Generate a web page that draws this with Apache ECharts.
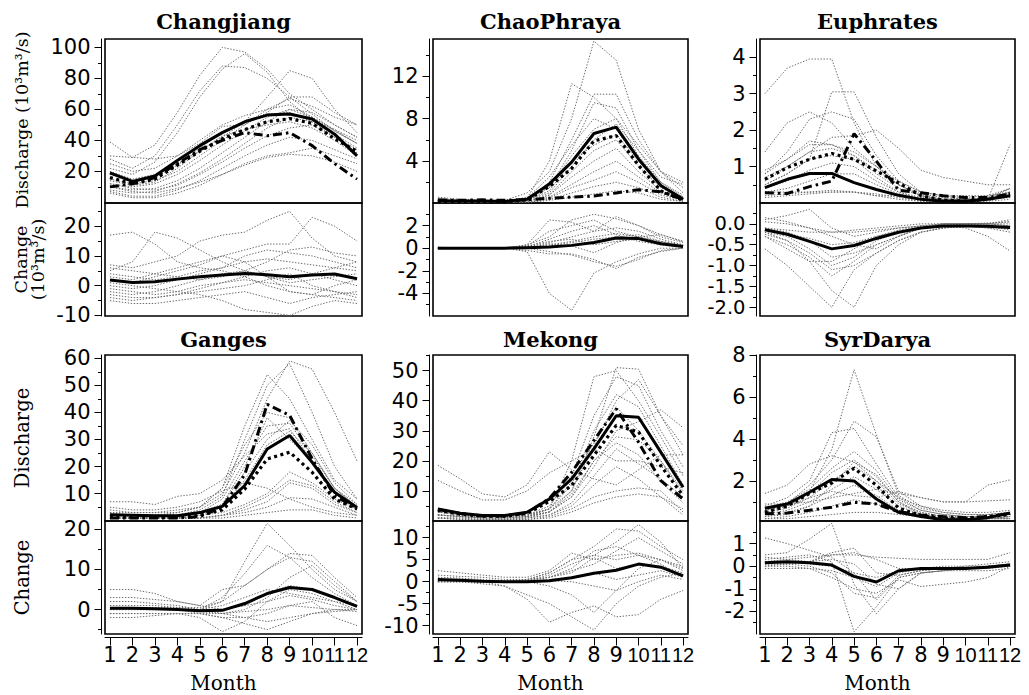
<!DOCTYPE html>
<html>
<head>
<meta charset="UTF-8">
<title>Monthly discharge and change, six basins</title>
<script src="https://cdn.jsdelivr.net/npm/echarts@6/dist/echarts.min.js"></script>
<style>
  html, body { margin: 0; padding: 0; background: #fff; }
  #chart { width: 1029px; height: 695px; }
</style>
</head>
<body>
<div id="chart"></div>
<script>
// months on the x axis
var months = [1, 2, 3, 4, 5, 6, 7, 8, 9, 10, 11, 12];

// ---- Changjiang ----
var cjQModels = [
  [39, 29, 37, 58, 82, 100, 97, 86, 70, 60, 50, 42],
  [28, 22, 30, 50, 72, 88, 87, 80, 68, 57, 46, 38],
  [22, 18, 26, 45, 68, 86, 96, 84, 65, 53, 47, 40],
  [20, 15, 18, 25, 33, 42, 52, 68, 85, 80, 60, 45],
  [30, 29, 28, 30, 38, 49, 50, 58, 68, 68, 58, 50],
  [15, 12, 14, 20, 30, 40, 50, 60, 67, 62, 55, 50],
  [12, 10, 12, 18, 27, 37, 46, 55, 60, 58, 50, 42],
  [10, 8, 9, 14, 22, 32, 42, 52, 60, 55, 47, 38],
  [8, 6, 7, 12, 19, 28, 38, 48, 55, 52, 44, 35],
  [12, 9, 8, 11, 18, 26, 35, 43, 48, 50, 42, 34],
  [7, 4, 4, 8, 14, 22, 30, 37, 42, 40, 34, 28],
  [6, 3, 3, 6, 11, 18, 25, 30, 32, 35, 30, 25],
  [10, 7, 6, 9, 13, 18, 24, 29, 31, 30, 26, 20],
  [18, 14, 16, 24, 35, 45, 52, 57, 58, 52, 42, 32],
  [25, 20, 22, 30, 40, 50, 56, 60, 63, 55, 46, 38],
  [14, 11, 13, 22, 33, 43, 47, 50, 52, 48, 40, 30]
];
var cjQSolid = [19, 13.5, 17, 27, 36.6, 45, 52, 56.3, 57, 53.8, 44, 30];
var cjQDot = [16, 12, 15, 24, 33, 41, 47, 52, 54, 51, 41, 33];
var cjQDashDot = [10, 12, 16, 25, 34, 40, 45, 43, 45, 36.6, 25, 15];
var cjCModels = [
  [17, 18, 14, 8, 6, 5, 3, 0, -2, -3, -4, -5],
  [5, 8, 18, 16, 12, 8, 5, 3, 2, 4, 6, 8],
  [7, 6, 8, 10, 15, 17, 18, 22, 25, 16, 10, 8],
  [3, 2, 4, 6, 8, 10, 12, 14, 14, 23, 20, 15],
  [2, 1, 3, 5, 7, 10, 8, 3, -2, -3, 0, 2],
  [4, 3, 2, 3, 5, 6, 10, 12, 11, 10, 8, 6],
  [0, -1, 0, 2, 4, 6, 8, 9, 8, 7, 6, 5],
  [-2, -3, -2, 0, 2, 4, 5, 3, 1, 2, 3, 4],
  [-4, -5, -4, -3, -1, 1, 3, 5, 6, 4, 2, 0],
  [-5, -6, -6, -5, -4, -3, -2, -4, -6, -4, -3, -2],
  [-3, -4, -4, -3, -2, -1, 0, 2, 4, 0, -2, -4],
  [1, 0, -1, -2, -3, -5, -8, -9, -10, -7, -5, -6],
  [6, 5, 4, 3, 2, 3, 5, 8, 12, 13, 11, 10],
  [-1, -2, -3, -2, 0, 1, 2, 1, 0, -1, -2, -3]
];
var cjCMean = [1.9, 1.1, 1.3, 2.2, 3.0, 3.6, 4.1, 3.7, 3.0, 3.6, 3.9, 2.3];

// ---- ChaoPhraya ----
var cpQModels = [
  [0.6, 0.4, 0.3, 0.3, 1.0, 3.0, 8.0, 15.3, 13.5, 7.0, 3.0, 1.5],
  [0.4, 0.3, 0.3, 0.3, 0.5, 4.0, 11.3, 10.0, 8.0, 5.5, 3.0, 2.0],
  [0.3, 0.2, 0.2, 0.2, 0.4, 2.0, 6.0, 10.3, 10.3, 6.0, 3.0, 1.0],
  [0.3, 0.2, 0.2, 0.2, 0.6, 1.5, 5.0, 9.5, 9.0, 5.0, 2.0, 0.8],
  [0.2, 0.2, 0.2, 0.2, 0.3, 1.5, 4.5, 7.0, 8.0, 4.5, 2.0, 0.6],
  [0.2, 0.2, 0.1, 0.1, 0.3, 1.0, 3.5, 6.0, 7.5, 5.0, 2.5, 1.8],
  [0.2, 0.2, 0.1, 0.1, 0.2, 0.8, 3.0, 5.0, 6.0, 3.5, 1.5, 0.5],
  [0.2, 0.1, 0.1, 0.1, 0.2, 0.8, 2.5, 4.0, 5.2, 3.0, 1.2, 0.4],
  [0.1, 0.1, 0.1, 0.1, 0.2, 0.6, 1.8, 3.0, 4.0, 2.5, 1.0, 0.3],
  [0.1, 0.1, 0.1, 0.1, 0.1, 0.5, 1.5, 2.2, 3.0, 2.0, 0.8, 0.3],
  [0.1, 0.1, 0.1, 0.1, 0.1, 0.4, 1.0, 1.6, 2.0, 1.5, 0.6, 0.2],
  [0.1, 0.1, 0.1, 0.1, 0.1, 0.3, 0.6, 0.9, 1.2, 1.0, 0.4, 0.2],
  [0.3, 0.2, 0.2, 0.2, 0.5, 2.5, 5.5, 8.0, 7.0, 4.0, 1.6, 0.6],
  [0.2, 0.2, 0.1, 0.1, 0.3, 1.2, 4.0, 5.5, 6.5, 4.0, 1.8, 0.6]
];
var cpQSolid = [0.27, 0.25, 0.25, 0.2, 0.4, 1.85, 3.9, 6.6, 7.2, 4.2, 1.7, 0.4];
var cpQDot = [0.2, 0.2, 0.2, 0.15, 0.35, 1.6, 3.3, 5.9, 6.4, 3.6, 1.2, 0.3];
var cpQDashDot = [0.35, 0.3, 0.35, 0.3, 0.35, 0.5, 0.6, 0.7, 1.0, 1.3, 1.1, 0.4];
var cpCModels = [
  [0, 0, 0, 0, -0.3, -4.0, -5.5, -2.2, -1.2, -0.5, 0, 0],
  [0.1, 0, 0, 0, 0.3, 2.5, 2.3, 1.5, 2.8, 2.0, 1.0, 0.5],
  [0, 0, 0, 0, 0.3, 1.0, 2.5, 3.0, 2.6, 2.0, 1.2, 0.6],
  [0, 0, 0, 0, 0.2, 1.5, 2.0, 2.5, 1.5, 1.0, 0.6, 0.3],
  [0, 0, 0, 0, 0.1, 0.5, 1.0, 1.5, 1.8, 1.5, 0.8, 0.3],
  [0, 0, 0, 0, 0, 0.3, 0.6, 1.0, 1.3, 1.0, 0.5, 0.2],
  [0, 0, 0, 0, -0.2, -0.5, -0.5, -1.0, -1.8, -0.8, -0.3, 0],
  [0, 0, 0, 0, 0, 0.2, 0.5, 0.8, 1.0, 1.2, 0.6, 0.2],
  [0, 0, 0, 0, 0, -0.3, -0.6, -1.2, -1.6, -1.0, -0.2, 0],
  [0, 0, 0, 0, 0.1, 0.8, 1.5, 2.0, 1.2, 0.6, 0.3, 0.1],
  [0, 0, 0, 0, 0, 0.4, 0.2, -0.4, 0.5, 1.0, 1.2, 0.6],
  [0, 0, 0, 0, 0.2, 0.6, 0.8, 0.3, 0.6, 0.8, 0.4, 0.1]
];
var cpCMean = [0, 0, 0, 0, 0.05, 0.1, 0.25, 0.5, 0.9, 0.85, 0.4, 0.15];

// ---- Euphrates ----
var euQModels = [
  [3.0, 3.7, 3.95, 3.95, 2.2, 1.0, 0.6, 0.3, 0.2, 0.15, 0.2, 0.3],
  [0.5, 0.8, 1.2, 3.05, 3.05, 1.8, 0.8, 0.3, 0.2, 0.1, 0.1, 0.2],
  [1.4, 2.2, 2.5, 2.2, 1.5, 1.0, 0.5, 0.2, 0.1, 0.1, 0.1, 0.2],
  [0.7, 1.0, 1.4, 1.8, 1.85, 2.0, 1.5, 0.9, 0.7, 0.6, 0.5, 0.5],
  [0.3, 0.3, 0.3, 0.3, 0.3, 0.2, 0.2, 0.1, 0.1, 0.1, 0.1, 1.6],
  [0.8, 1.4, 2.3, 2.5, 2.3, 1.3, 0.6, 0.3, 0.2, 0.2, 0.2, 0.4],
  [0.9, 1.2, 1.6, 1.6, 1.4, 1.0, 0.5, 0.2, 0.1, 0.1, 0.1, 0.3],
  [0.6, 1.0, 1.4, 1.5, 1.3, 0.8, 0.4, 0.2, 0.1, 0.1, 0.1, 0.3],
  [0.5, 0.8, 1.2, 1.3, 1.2, 0.7, 0.3, 0.15, 0.1, 0.05, 0.1, 0.2],
  [0.4, 0.6, 0.9, 1.1, 1.0, 0.6, 0.3, 0.1, 0.05, 0.05, 0.1, 0.2],
  [0.3, 0.4, 0.6, 0.8, 0.8, 0.5, 0.25, 0.1, 0.05, 0.05, 0.1, 0.15],
  [0.15, 0.2, 0.25, 0.3, 0.3, 0.2, 0.1, 0.05, 0.03, 0.03, 0.05, 0.1],
  [0.2, 0.25, 0.3, 0.35, 0.3, 0.25, 0.15, 0.05, 0.05, 0.05, 0.1, 0.4],
  [0.8, 1.2, 1.7, 1.6, 1.3, 0.9, 0.5, 0.25, 0.15, 0.1, 0.15, 0.4]
];
var euQSolid = [0.42, 0.65, 0.81, 0.81, 0.56, 0.37, 0.21, 0.1, 0.05, 0.05, 0.1, 0.2];
var euQDot = [0.65, 0.97, 1.2, 1.36, 1.2, 0.88, 0.55, 0.2, 0.08, 0.05, 0.1, 0.25];
var euQDashDot = [0.28, 0.26, 0.45, 0.6, 1.9, 1.15, 0.35, 0.28, 0.2, 0.15, 0.15, 0.24];
var euCModels = [
  [-0.6, -1.0, -1.5, -2.0, -1.1, -0.7, -0.4, -0.2, -0.1, -0.05, -0.1, -0.1],
  [-0.2, -0.4, -0.9, -1.6, -2.0, -1.0, -0.5, -0.2, -0.1, -0.05, -0.05, -0.1],
  [0.1, 0.2, 0.35, -0.1, -0.3, -0.2, -0.1, -0.05, 0, 0, 0, 0],
  [-0.1, -0.15, -0.2, -0.2, -0.2, -0.15, -0.1, -0.05, -0.05, -0.1, -0.3, -0.65],
  [-0.3, -0.5, -0.8, -1.25, -0.9, -0.5, -0.3, -0.1, -0.05, 0, 0, -0.05],
  [-0.2, -0.3, -0.6, -1.0, -0.8, -0.4, -0.2, -0.1, 0, 0, 0, 0.1],
  [-0.1, -0.2, -0.4, -0.8, -0.7, -0.5, -0.3, -0.1, -0.05, 0, 0, 0.05],
  [0.05, 0, -0.1, -0.3, -0.5, -0.6, -0.3, -0.1, 0, 0, 0.02, 0.05],
  [-0.3, -0.6, -0.9, -0.9, -0.6, -0.3, -0.2, -0.1, -0.05, -0.05, -0.1, -0.2],
  [-0.15, -0.25, -0.35, -0.5, -0.45, -0.3, -0.15, -0.05, 0, 0, -0.05, -0.1],
  [0.15, 0.05, -0.1, -0.2, -0.15, -0.1, -0.05, 0, 0, 0, 0, -0.05],
  [-0.25, -0.4, -0.7, -1.1, -1.0, -0.7, -0.4, -0.2, -0.1, -0.05, -0.05, -0.15]
];
var euCMean = [-0.14, -0.25, -0.42, -0.6, -0.52, -0.35, -0.2, -0.1, -0.05, -0.05, -0.06, -0.09];

// ---- Ganges ----
var gaQModels = [
  [3, 3, 3, 4, 5, 10, 25, 45, 59, 56, 40, 22],
  [4, 3, 3, 3, 5, 12, 35, 54, 45, 30, 15, 8],
  [2, 2, 2, 2, 4, 9, 30, 50, 58, 40, 20, 8],
  [3, 2, 2, 3, 5, 12, 28, 40, 38, 25, 12, 6],
  [2, 2, 2, 2, 3, 8, 22, 35, 36, 24, 12, 5],
  [7, 7, 6, 9, 10, 15, 24, 32, 34, 22, 10, 5],
  [2, 2, 2, 2, 3, 6, 18, 30, 37, 28, 14, 6],
  [1, 1, 1, 1, 2, 5, 15, 28, 33, 25, 12, 5],
  [1, 1, 1, 1, 2, 3, 6, 10, 18, 14, 8, 4],
  [1, 1, 1, 1, 1, 2, 5, 9, 15, 13, 7, 3],
  [1, 1, 1, 1, 1, 2, 4, 7, 14, 12, 6, 3],
  [1, 1, 1, 1, 1, 2, 3, 5, 8.5, 8, 5, 2],
  [1, 1, 1, 1, 1, 1, 2, 3, 4, 4, 2, 1],
  [5, 4, 4, 5, 7, 11, 14, 12, 8, 5, 3, 2],
  [2, 2, 2, 2, 3, 6, 20, 38, 30, 22, 10, 4]
];
var gaQSolid = [2.2, 2.0, 1.8, 1.8, 3.0, 5.3, 13, 26.5, 31.5, 21.6, 10.5, 4.9];
var gaQDot = [1.5, 1.4, 1.3, 1.3, 2.0, 4.0, 11.7, 22.8, 25.3, 17.9, 8.0, 4.3];
var gaQDashDot = [1.0, 1.0, 1.0, 1.0, 1.5, 5.0, 17, 43, 38.9, 22.8, 9.2, 4.6];
var gaCModels = [
  [0, 0, 0, 0, 0, 2, 12, 21.5, 16, 10, 5, 2],
  [0, 0, 0, 0, 0, 3, 9, 16, 13, 8, 4, 1],
  [5, 5, 4, 2, 1, 5, 6, 10, 14, 13.5, 8, 3],
  [0.5, 0.5, 0.5, 0.5, 0.5, 2, 6, 10, 13, 12, 7, 2],
  [-1, -1, -1, -1, -2, -5.5, -3, 2, 5, 4, 2, 0],
  [0, 0, 0, 0, -1, -2, -3.5, -5, -3, -1, 0, 0],
  [2, 2, 1.5, 1, 0, -1, 0, 3, 8, 11, 6, 2],
  [-2, -2, -1.5, -1, -1, -2, -2, -1, 1, 2, -2, -4],
  [1, 1, 1, 0.5, 0, 1, 3, 5, 4, 3, 2, 1],
  [0, 0, 0, 0, 0, 0, 1, 2, 3.5, 2.5, 1, 0],
  [0, 0, 0, 0, -0.5, -1, -2, -3, -2, -1, -0.5, 0],
  [3, 3, 2.5, 2, 1, 0, 1, 4, 6, 5, 3, 1],
  [-1, -1, -1, -1, -1, -1, -0.5, 0, 1, 0.5, 0, -0.5]
];
var gaCMean = [0.3, 0.3, 0.2, 0.0, -0.3, -0.2, 1.5, 4.0, 5.5, 5.0, 3.0, 0.8];

// ---- Mekong ----
var meQModels = [
  [18.5, 14, 9, 8, 12, 23, 17, 14, 12, 17, 22, 22],
  [13.5, 10, 7, 7, 10, 16, 20, 24, 20, 20, 18, 16],
  [3, 2, 1.5, 1.5, 2, 4, 10, 28, 51, 50.5, 35, 22],
  [3, 2, 1.5, 1.5, 2, 5, 15, 35, 48, 45, 30, 18],
  [2, 1.5, 1, 1, 1.5, 4, 20, 48, 50, 40, 28, 15],
  [2, 1.5, 1, 1, 1.5, 3, 10, 25, 40, 47, 35, 25],
  [2, 1.5, 1, 1, 1.5, 3, 8, 18, 30, 33, 37, 31],
  [3, 2, 1.5, 1.5, 2, 4, 12, 30, 42, 38, 25, 12],
  [2, 1.5, 1, 1, 1.5, 3, 8, 20, 28, 27, 20, 10],
  [1, 1, 0.5, 0.5, 1, 2, 6, 15, 24, 19, 14, 8],
  [1, 1, 0.5, 0.5, 1, 2, 5, 12, 18, 14, 8, 4],
  [1, 0.5, 0.5, 0.5, 0.5, 1.5, 4, 8, 10, 11, 10, 3],
  [1, 0.5, 0.5, 0.5, 0.5, 1, 3, 6, 8, 9, 8, 2],
  [2, 1.5, 1, 1, 1.5, 4, 13, 26, 38, 30, 20, 9],
  [2, 1.5, 1, 1, 1, 3, 9, 20, 26, 22, 13, 6]
];
var meQSolid = [4, 2.6, 1.8, 1.8, 2.9, 7.3, 14, 24, 35, 34.5, 22.9, 11.2];
var meQDot = [3.5, 2.3, 1.6, 1.6, 2.5, 6.5, 11.8, 21.8, 31.8, 29.6, 18.4, 8.4];
var meQDashDot = [3.8, 2.5, 1.7, 1.7, 2.7, 7.5, 16.2, 26.8, 37.3, 26.2, 13.4, 7.3];
var meCModels = [
  [0.5, 0.3, 0, -1, -4, -9.2, -7, -5.5, -8, -7.5, -4, -2],
  [0, 0, -0.5, -1, -3, -5, -8, -11, -5, -1, 1, 2],
  [0.3, 0.2, 0, 0, 0.5, 2, 5, 8, 12, 11.5, 8, 5],
  [0.5, 0.3, 0.1, 0, 0.3, 1.5, 4, 6, 9, 13, 9, 3],
  [2.5, 2, 1.5, 1, 1, 2.5, 6.5, 5, 6, 6.5, 5, 3],
  [0, 0, 0, 0, 0.3, 1, 2, 5.5, 3, 4, 3.5, 2],
  [0.5, 0.3, 0.1, 0, 0.2, 1, 3, 7, 8, 6, 4, 1],
  [0, 0, 0, 0, 0, -1, -3, -7, -2, 3, 5, 3.5],
  [1, 0.8, 0.5, 0.2, 0.5, 2, 5, 6, 5, 6, 5, 2.5],
  [0, 0, 0, 0, 0, 0.5, 1, 2, 0.5, 1.5, 2.5, 1],
  [0, 0, -0.2, -0.2, 0, 0.2, 0, -1, -2, 0, 1.5, 0.5],
  [1.5, 1.2, 1, 0.5, 0.5, 1, 2.5, 4, 7, 10, 7, 4]
];
var meCMean = [0.5, 0.3, 0.1, 0, 0, 0.2, 0.9, 1.9, 2.6, 4.0, 3.3, 1.3];

// ---- SyrDarya ----
var syQModels = [
  [0.5, 0.8, 1.5, 3.5, 7.3, 4.2, 1.3, 0.7, 0.5, 0.4, 0.4, 0.5],
  [0.6, 0.9, 1.8, 3.0, 4.85, 4.1, 1.5, 0.8, 0.5, 0.4, 0.4, 0.5],
  [0.8, 1.2, 2.0, 4.3, 4.5, 2.8, 1.2, 0.6, 0.4, 0.3, 0.3, 0.4],
  [1.4, 1.8, 2.8, 3.2, 2.9, 2.0, 1.2, 0.8, 0.6, 0.5, 0.5, 0.6],
  [0.9, 0.9, 1.0, 1.2, 1.4, 1.6, 1.4, 1.2, 1.0, 1.0, 1.8, 2.05],
  [0.7, 1.0, 1.6, 2.6, 3.4, 2.5, 1.1, 0.6, 0.4, 0.3, 0.3, 0.4],
  [0.6, 0.8, 1.4, 2.4, 3.0, 2.2, 1.0, 0.5, 0.3, 0.3, 0.3, 0.4],
  [0.5, 0.7, 1.2, 2.0, 2.7, 2.0, 0.9, 0.5, 0.3, 0.2, 0.2, 0.3],
  [0.4, 0.6, 1.0, 1.6, 2.2, 1.6, 0.8, 0.4, 0.3, 0.2, 0.2, 0.3],
  [0.3, 0.5, 0.8, 1.3, 1.8, 1.3, 0.6, 0.3, 0.2, 0.2, 0.2, 0.2],
  [0.2, 0.3, 0.5, 0.8, 1.1, 0.9, 0.5, 0.3, 0.2, 0.2, 0.2, 0.2],
  [0.2, 0.2, 0.3, 0.4, 0.5, 0.5, 0.4, 0.3, 0.2, 0.2, 0.2, 0.2],
  [0.6, 0.8, 1.2, 1.5, 1.3, 1.2, 1.5, 1.2, 1.0, 1.0, 1.05, 1.1],
  [0.3, 0.4, 0.8, 1.8, 2.9, 2.3, 1.0, 0.4, 0.2, 0.2, 0.2, 0.3]
];
var syQSolid = [0.7, 0.9, 1.46, 2.07, 2.0, 1.14, 0.5, 0.3, 0.15, 0.15, 0.25, 0.47];
var syQDot = [0.5, 0.8, 1.4, 1.9, 2.6, 1.8, 0.7, 0.35, 0.2, 0.2, 0.3, 0.4];
var syQDashDot = [0.43, 0.47, 0.6, 0.75, 0.98, 0.9, 0.53, 0.38, 0.3, 0.25, 0.3, 0.45];
var syCModels = [
  [1.25, 1.0, 0.7, 0.4, -0.3, -1.5, -0.5, -0.3, -0.2, -0.2, -0.2, -0.1],
  [0.5, 0.6, 1.2, 1.9, -0.8, -2.1, -1.0, -0.3, -0.2, -0.1, 0, 0],
  [0.3, 0.4, 0.5, 0.2, -2.9, -1.8, -0.5, -0.3, -0.2, -0.1, 0, 0.1],
  [0, 0.1, 0.2, 0.6, 0.8, -0.3, -0.4, -0.2, -0.1, -0.1, 0, 0.05],
  [0.2, 0.3, 0.4, 0.5, 0.5, 0.4, 0.35, 0.3, 0.3, 0.3, 0.3, 0.6],
  [0.1, 0.1, 0, -0.3, -1.2, -1.4, -0.4, -0.2, -0.1, -0.1, 0, 0],
  [0, 0, -0.1, -0.5, -1.0, -1.2, -0.6, -0.9, -0.8, -0.7, -0.5, 0],
  [0.4, 0.3, 0.2, 0.5, 0.6, 0.3, -0.1, -0.1, -0.1, 0, 0, 0.1],
  [-0.1, -0.1, -0.1, -0.2, -0.5, -0.9, -0.3, -0.1, -0.1, -0.1, -0.1, 0],
  [0.2, 0.2, 0.1, 0, -0.3, -0.5, -0.2, -0.1, 0, 0, 0.1, 0.2],
  [0.1, 0.1, 0.2, 0.3, 0.1, -0.8, -1.0, -0.3, -0.2, -0.1, 0, 0.1]
];
var syCMean = [0.15, 0.2, 0.15, 0.05, -0.45, -0.7, -0.2, -0.1, -0.1, -0.1, -0.05, 0.05];

// axis ranges and tick values (major labelled, minor unlabelled)
var cjQTicks = [20, 40, 60, 80, 100], cjQMinor = [10, 30, 50, 70, 90];
var cjCTicks = [-10, 0, 10, 20], cjCMinor = [-5, 5, 15, 25];
var cpQTicks = [4, 8, 12], cpQMinor = [2, 6, 10, 14];
var cpCTicks = [-4, -2, 0, 2], cpCMinor = [-5, -3, -1, 1, 3];
var euQTicks = [1, 2, 3, 4], euQMinor = [0.5, 1.5, 2.5, 3.5];
var euCTicks = [-2, -1.5, -1, -0.5, 0], euCMinor = [-1.75, -1.25, -0.75, -0.25, 0.25];
var gaQTicks = [10, 20, 30, 40, 50, 60], gaQMinor = [5, 15, 25, 35, 45, 55];
var gaCTicks = [0, 10, 20], gaCMinor = [-5, 5, 15];
var meQTicks = [10, 20, 30, 40, 50], meQMinor = [5, 15, 25, 35, 45, 55];
var meCTicks = [-10, -5, 0, 5, 10], meCMinor = [-7.5, -2.5, 2.5, 7.5, 12.5];
var syQTicks = [2, 4, 6, 8], syQMinor = [1, 3, 5, 7];
var syCTicks = [-2, -1, 0, 1], syCMinor = [-2.5, -1.5, -0.5, 0.5, 1.5];

var panels = [
  { name: 'Changjiang', col: 0, row: 0,
    q: { models: cjQModels, solid: cjQSolid, dot: cjQDot, dash: cjQDashDot, min: -0.4, max: 105.4, ticks: cjQTicks, minor: cjQMinor },
    c: { models: cjCModels, mean: cjCMean, min: -10.2, max: 27.8, ticks: cjCTicks, minor: cjCMinor } },
  { name: 'ChaoPhraya', col: 1, row: 0,
    q: { models: cpQModels, solid: cpQSolid, dot: cpQDot, dash: cpQDashDot, min: 0.05, max: 15.5, ticks: cpQTicks, minor: cpQMinor },
    c: { models: cpCModels, mean: cpCMean, min: -6, max: 4, ticks: cpCTicks, minor: cpCMinor } },
  { name: 'Euphrates', col: 2, row: 0,
    q: { models: euQModels, solid: euQSolid, dot: euQDot, dash: euQDashDot, min: 0, max: 4.5, ticks: euQTicks, minor: euQMinor },
    c: { models: euCModels, mean: euCMean, min: -2.21, max: 0.5, ticks: euCTicks, minor: euCMinor, fixed: 1, tight: true } },
  { name: 'Ganges', col: 0, row: 1,
    q: { models: gaQModels, solid: gaQSolid, dot: gaQDot, dash: gaQDashDot, min: -0.1, max: 61.2, ticks: gaQTicks, minor: gaQMinor },
    c: { models: gaCModels, mean: gaCMean, min: -6.1, max: 22.1, ticks: gaCTicks, minor: gaCMinor } },
  { name: 'Mekong', col: 1, row: 1,
    q: { models: meQModels, solid: meQSolid, dot: meQDot, dash: meQDashDot, min: 0, max: 55.2, ticks: meQTicks, minor: meQMinor },
    c: { models: meCModels, mean: meCMean, min: -11.9, max: 13.8, ticks: meCTicks, minor: meCMinor } },
  { name: 'SyrDarya', col: 2, row: 1,
    q: { models: syQModels, solid: syQSolid, dot: syQDot, dash: syQDashDot, min: 0.09, max: 8.0, ticks: syQTicks, minor: syQMinor },
    c: { models: syCModels, mean: syCMean, min: -3, max: 2, ticks: syCTicks, minor: syCMinor } }
];

// layout in pixels
var colBox = [{ left: 105, width: 257 }, { left: 433, width: 255 }, { left: 760, width: 255 }];
var rowBox = [
  { qTop: 39, qH: 164, cTop: 203, cH: 113, title: 21 },
  { qTop: 355, qH: 166, cTop: 521, cH: 113, title: 339 }
];

var grids = [], xAxes = [], yAxes = [], series = [], graphics = [];
var tickFont = { fontFamily: 'DejaVu Sans', fontSize: 21, color: '#000' };
var greyStyle = { color: '#6a6a6a', width: 1, type: [1.4, 1.6] };

function toPts(vals) {
  return months.map(function (m, i) { return [m, vals[i]]; });
}

function addLine(axisIdx, vals, style, z) {
  series.push({
    type: 'line', xAxisIndex: axisIdx, yAxisIndex: axisIdx * 2,
    data: toPts(vals), symbol: 'none', silent: true, z: z,
    lineStyle: style
  });
}

// two-digit months are set a little narrower so they fit the 22px step
function monthLabel(v) {
  return v >= 10 ? '{n|' + v + '}' : String(v);
}

function addGrid(box, spec, showX) {
  var gi = grids.length;
  grids.push({ left: box.left, top: box.top, width: box.width, height: box.height,
    show: true, borderColor: '#000', borderWidth: 1.6, backgroundColor: 'transparent' });
  xAxes.push({
    type: 'value', gridIndex: gi, min: 0.78, max: 12.22, position: 'bottom', offset: 3.5,
    splitLine: { show: false },
    axisLine: { show: showX, onZero: false, lineStyle: { color: '#000', width: 1 } },
    axisTick: { show: showX, length: 8, customValues: months, lineStyle: { color: '#000', width: 1 } },
    axisLabel: Object.assign({ show: showX, customValues: months, margin: 7,
      hideOverlap: false, showMinLabel: true, showMaxLabel: true, formatter: monthLabel,
      rich: { n: { fontFamily: 'Liberation Sans', fontSize: 20, color: '#000' } } }, tickFont)
  });
  var fmt = spec.fixed ? function (v) { return v.toFixed(spec.fixed); } : function (v) { return String(v); };
  // closely spaced labels get a shorter line box so they do not overlap
  var yFont = spec.tight ? { fontFamily: 'DejaVu Sans', fontSize: 19.5, lineHeight: 18, color: '#000' } : tickFont;
  yAxes.push({
    type: 'value', gridIndex: gi, min: spec.min, max: spec.max, position: 'left', offset: 3.5,
    splitLine: { show: false },
    axisLine: { show: true, onZero: false, lineStyle: { color: '#000', width: 1 } },
    axisTick: { show: true, length: 7, customValues: spec.ticks, lineStyle: { color: '#000', width: 1 } },
    axisLabel: Object.assign({ show: true, customValues: spec.ticks, margin: 11, formatter: fmt,
      hideOverlap: false, showMinLabel: true, showMaxLabel: true }, yFont)
  });
  yAxes.push({
    type: 'value', gridIndex: gi, min: spec.min, max: spec.max, position: 'left', offset: 3.5,
    splitLine: { show: false },
    axisLine: { show: false, onZero: false },
    axisTick: { show: true, length: 3.5, customValues: spec.minor, lineStyle: { color: '#000', width: 1 } },
    axisLabel: { show: false }
  });
  return gi;
}

panels.forEach(function (p) {
  var cb = colBox[p.col], rb = rowBox[p.row];
  var qi = addGrid({ left: cb.left, top: rb.qTop, width: cb.width, height: rb.qH }, p.q, false);
  p.q.models.forEach(function (m) { addLine(qi, m, greyStyle, 2); });
  addLine(qi, p.q.dash, { color: '#000', width: 3, type: [9, 4, 2.5, 4] }, 4);
  addLine(qi, p.q.dot, { color: '#000', width: 3.2, type: [3, 3.5] }, 4);
  addLine(qi, p.q.solid, { color: '#000', width: 3 }, 5);

  var ci = addGrid({ left: cb.left, top: rb.cTop, width: cb.width, height: rb.cH }, p.c, p.row === 1);
  p.c.models.forEach(function (m) { addLine(ci, m, greyStyle, 2); });
  addLine(ci, p.c.mean, { color: '#000', width: 3 }, 5);

  // basin title
  graphics.push({ type: 'text', x: cb.left + cb.width / 2 - 10, y: rb.title,
    style: { text: p.name, fontFamily: 'DejaVu Serif', fontWeight: 'bold', fontSize: 21,
      fill: '#000', align: 'center', verticalAlign: 'middle' } });
  if (p.row === 1) {
    graphics.push({ type: 'text', x: cb.left + cb.width / 2 - 10, y: 683,
      style: { text: 'Month', fontFamily: 'DejaVu Serif', fontSize: 20,
        fill: '#000', align: 'center', verticalAlign: 'middle' } });
  }
});

// y-axis names (first column only)
var yNames = [
  { text: 'Discharge (10³m³/s)', x: 22, y: 120, size: 17.5, lh: 18 },
  { text: 'Change\n(10³m³/s)', x: 29.5, y: 259.5, size: 17.5, lh: 17 },
  { text: 'Discharge', x: 22, y: 438, size: 19.5, lh: 20 },
  { text: 'Change', x: 22, y: 577.5, size: 19.5, lh: 20 }
];
yNames.forEach(function (n) {
  graphics.push({ type: 'text', x: n.x, y: n.y, rotation: Math.PI / 2,
    style: { text: n.text, fontFamily: 'DejaVu Serif', fontSize: n.size, lineHeight: n.lh,
      fill: '#000', align: 'center', verticalAlign: 'middle' } });
});

var chart = echarts.init(document.getElementById('chart'), null, { renderer: 'svg' });
chart.setOption({
  animation: false,
  backgroundColor: '#fff',
  grid: grids,
  xAxis: xAxes,
  yAxis: yAxes,
  series: series,
  graphic: graphics
});
</script>
</body>
</html>
